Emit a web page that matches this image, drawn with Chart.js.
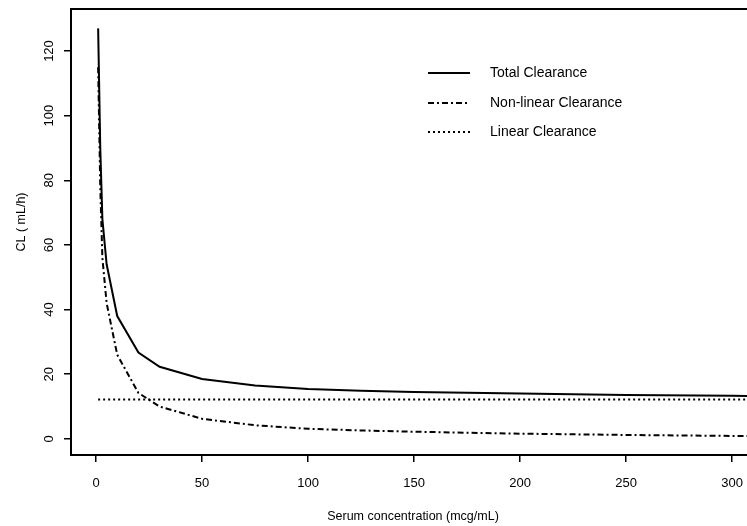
<!DOCTYPE html>
<html><head><meta charset="utf-8">
<script src="https://cdn.jsdelivr.net/npm/chart.js@4.4.0/dist/chart.umd.min.js"></script>
<style>html,body{margin:0;padding:0;background:#fff;overflow:hidden}#wrap{width:747px;height:526px}</style>
</head><body><div id="wrap"><canvas id="c" width="747" height="526"></canvas></div>
<script>
const concentration = [1, 2, 3, 5, 10, 20, 30, 50, 75, 100, 125, 150, 200, 250, 300, 310];
const totalClearance = [127, 90, 68, 54, 38, 26.7, 22.3, 18.5, 16.5, 15.4, 14.9, 14.5, 14.0, 13.6, 13.3, 13.2];
const nonlinearClearance = [115, 78, 56, 42, 26, 14.2, 10, 6.2, 4.2, 3.1, 2.6, 2.2, 1.6, 1.2, 0.9, 0.9];
const linearClearance = [12.2, 12.2, 12.2, 12.2, 12.2, 12.2, 12.2, 12.2, 12.2, 12.2, 12.2, 12.2, 12.2, 12.2, 12.2, 12.2];
const seriesNames = ['Total Clearance', 'Non-linear Clearance', 'Linear Clearance'];
const xTicks = [0, 50, 100, 150, 200, 250, 300];
const yTicks = [0, 20, 40, 60, 80, 100, 120];
const xTitle = 'Serum concentration (mcg/mL)';
const yTitle = 'CL ( mL/h)';

const FONT = '"Liberation Sans", Arial, sans-serif';
const pts = arr => concentration.map((c, i) => ({x: c, y: arr[i]}));

const framePlugin = {
  id: 'frame',
  afterDraw(chart) {
    const ctx = chart.ctx, a = chart.chartArea;
    const xs = chart.scales.x, ys = chart.scales.y;
    ctx.save();
    ctx.strokeStyle = '#000'; ctx.lineWidth = 2;
    ctx.beginPath(); ctx.moveTo(a.left - 1, a.top); ctx.lineTo(a.right, a.top); ctx.stroke();
    ctx.fillStyle = '#000';
    ctx.font = '13px ' + FONT;
    ctx.textAlign = 'center'; ctx.textBaseline = 'middle';
    xTicks.forEach(v => ctx.fillText(String(v), xs.getPixelForValue(v), 483));
    yTicks.forEach(v => {
      ctx.save(); ctx.translate(49, ys.getPixelForValue(v)); ctx.rotate(-Math.PI / 2);
      ctx.fillText(String(v), 0, 0); ctx.restore();
    });
    ctx.font = '12.5px ' + FONT;
    ctx.fillText(xTitle, 413, 517);
    ctx.save(); ctx.translate(22, 222); ctx.rotate(-Math.PI / 2);
    ctx.fillText(yTitle, 0, 0); ctx.restore();
    // legend
    const rows = [73, 103, 132];
    ctx.font = '14px ' + FONT;
    ctx.textAlign = 'left';
    chart.data.datasets.forEach((ds, i) => {
      ctx.save();
      ctx.strokeStyle = ds.borderColor; ctx.lineWidth = ds.borderWidth;
      ctx.setLineDash(ds.borderDash || []);
      ctx.beginPath(); ctx.moveTo(428, rows[i]); ctx.lineTo(470, rows[i]); ctx.stroke();
      ctx.restore();
      ctx.fillText(ds.label, 490, rows[i]);
    });
    ctx.restore();
  }
};

new Chart(document.getElementById('c'), {
  type: 'scatter',
  data: {
    datasets: [
      {label: seriesNames[0], data: pts(totalClearance), showLine: true, borderColor: '#000', borderWidth: 2, pointRadius: 0, tension: 0},
      {label: seriesNames[1], data: pts(nonlinearClearance), showLine: true, borderColor: '#000', borderWidth: 2, borderDash: [6, 3, 2, 3], pointRadius: 0, tension: 0},
      {label: seriesNames[2], data: pts(linearClearance), showLine: true, borderColor: '#000', borderWidth: 2, borderDash: [2, 3], pointRadius: 0, tension: 0}
    ]
  },
  options: {
    responsive: false, animation: false, devicePixelRatio: 1,
    layout: {padding: {top: 9, right: 0, left: 0, bottom: 0}},
    plugins: {legend: {display: false}, tooltip: {enabled: false}},
    scales: {
      x: {
        type: 'linear', min: -11.8, max: 307,
        afterBuildTicks: s => { s.ticks = xTicks.map(v => ({value: v})); },
        afterFit: s => { s.height = 71; },
        ticks: {display: false},
        grid: {display: true, drawOnChartArea: false, drawTicks: true, tickLength: 7, color: '#000', lineWidth: 1.5},
        border: {display: true, color: '#000', width: 2}
      },
      y: {
        type: 'linear', min: -5, max: 133,
        afterBuildTicks: s => { s.ticks = yTicks.map(v => ({value: v})); },
        afterFit: s => { s.width = 71; },
        ticks: {display: false},
        grid: {display: true, drawOnChartArea: false, drawTicks: true, tickLength: 7, color: '#000', lineWidth: 1.5},
        border: {display: true, color: '#000', width: 2}
      }
    }
  },
  plugins: [framePlugin]
});
</script></body></html>
